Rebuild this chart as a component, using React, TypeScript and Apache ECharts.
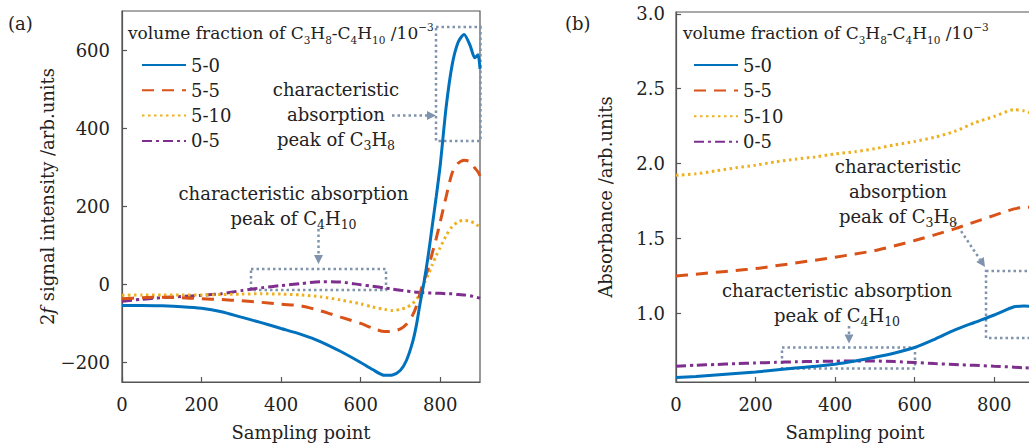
import React, { useEffect, useRef } from 'react';
import * as echarts from 'echarts';

const FONT = '"DejaVu Serif", "Liberation Serif", serif';
const FS = 18;
const TXT = '#222';
const AX = '#555';
const ANN = '#8093ad';

const seriesNames = ['5-0', '5-5', '5-10', '0-5'];
const seriesColors = ['#0072BD', '#D95319', '#EDB120', '#7E2F8E'];
const seriesDash: any[] = ['solid', [12, 8], [2.5, 3.5], [10, 4, 3, 4]];

const xTicks = [0, 200, 400, 600, 800];
const yTicksA = [-200, 0, 200, 400, 600];
const yTicksB = [1.0, 1.5, 2.0, 2.5, 3.0];

// Panel (a): 2f signal
const xA = [0, 50, 100, 150, 200, 250, 300, 350, 400, 450, 500, 550, 600, 630, 660, 680, 700, 715, 730, 740, 750, 760, 770, 780, 790, 800, 815, 830, 845, 860, 875, 887, 895, 900];
const a_5_0 = [-54, -54, -55, -57, -61, -70, -84, -98, -113, -128, -147, -172, -200, -218, -233, -232, -220, -195, -150, -105, -45, 10, 75, 150, 225, 305, 455, 562, 620, 640, 612, 580, 588, 552];
const a_5_5 = [-37, -34, -33, -34, -37, -39, -42, -46, -51, -55, -68, -84, -100, -112, -121, -120, -114, -102, -80, -56, -20, 12, 42, 80, 118, 160, 225, 285, 310, 318, 314, 298, 288, 278];
const a_5_10 = [-28, -27, -27, -27, -27, -26, -25, -24, -25, -27, -32, -40, -50, -58, -64, -67, -64, -59, -50, -38, -25, 3, 25, 50, 74, 94, 125, 148, 160, 164, 162, 156, 150, 145];
const a_0_5 = [-43, -38, -34, -31, -28, -24, -16, -9, -3, 2, 7, 6, -1, -5, -9, -12, -15, -17, -19, -20, -21, -21, -22, -22, -23, -23, -24, -24, -26, -27, -29, -32, -34, -36];

// Panel (b): absorbance
const xB = [0, 50, 100, 150, 200, 250, 300, 350, 400, 450, 500, 550, 600, 650, 700, 750, 800, 850, 875, 900];
const b_5_0 = [0.573, 0.58, 0.59, 0.6, 0.61, 0.623, 0.636, 0.648, 0.662, 0.683, 0.708, 0.737, 0.773, 0.828, 0.889, 0.94, 0.99, 1.045, 1.05, 1.048];
const b_5_5 = [1.25, 1.262, 1.275, 1.287, 1.3, 1.318, 1.337, 1.356, 1.376, 1.397, 1.42, 1.452, 1.487, 1.525, 1.565, 1.61, 1.655, 1.698, 1.708, 1.71];
const b_5_10 = [1.922, 1.932, 1.952, 1.972, 1.99, 2.012, 2.03, 2.045, 2.065, 2.08, 2.1, 2.125, 2.148, 2.176, 2.215, 2.272, 2.315, 2.36, 2.352, 2.33];
const b_0_5 = [0.648, 0.655, 0.66, 0.665, 0.67, 0.674, 0.678, 0.68, 0.682, 0.683, 0.683, 0.679, 0.673, 0.666, 0.66, 0.654, 0.648, 0.642, 0.638, 0.636];

const aSeries = [a_5_0, a_5_5, a_5_10, a_0_5];
const bSeries = [b_5_0, b_5_5, b_5_10, b_0_5];

const richBase = {
  n: { fontFamily: FONT, fontSize: FS, color: TXT, lineHeight: 25 },
  m: { fontFamily: FONT, fontSize: 17, color: TXT, lineHeight: 24 },
  s: { fontFamily: FONT, fontSize: 12.5, color: TXT, lineHeight: 15, verticalAlign: 'bottom' },
  t: { fontFamily: FONT, fontSize: 10.5, color: TXT, lineHeight: 14, verticalAlign: 'bottom' },
  p: { fontFamily: FONT, fontSize: 10.5, color: TXT, lineHeight: 12, verticalAlign: 'top' },
  i: { fontFamily: FONT, fontSize: FS, color: TXT, lineHeight: 25, fontStyle: 'italic' },
};

const legendTitle = '{m|volume fraction of C}{t|3}{m|H}{t|8}{m|-C}{t|4}{m|H}{t|10}{m| /10}{p|−3}';

function txt(x: number, y: number, text: string, align: string) {
  return {
    type: 'text',
    x, y,
    silent: true,
    style: {
      text,
      rich: richBase,
      fill: TXT,
      font: `${FS}px ${FONT}`,
      align, textAlign: align,
      verticalAlign: 'middle', textVerticalAlign: 'middle',
    },
  };
}

function box(x: number, y: number, w: number, h: number) {
  return {
    type: 'rect', silent: true,
    shape: { x, y, width: w, height: h },
    style: { fill: 'none', stroke: ANN, lineWidth: 2.5, lineDash: [2.5, 3] },
  };
}

function arrow(x1: number, y1: number, x2: number, y2: number) {
  const dx = x2 - x1, dy = y2 - y1;
  const L = Math.sqrt(dx * dx + dy * dy);
  const ux = dx / L, uy = dy / L;
  const hl = 9, hw = 4.5;
  const bx = x2 - ux * hl, by = y2 - uy * hl;
  return [
    {
      type: 'line', silent: true,
      shape: { x1, y1, x2: bx, y2: by },
      style: { stroke: ANN, lineWidth: 2.5, lineDash: [2.5, 3] },
    },
    {
      type: 'polygon', silent: true,
      shape: { points: [[x2, y2], [bx - uy * hw, by + ux * hw], [bx + uy * hw, by - ux * hw]] },
      style: { fill: ANN },
    },
  ];
}

function makeAxisLabel(fmt: (v: number) => string, values: number[], margin: number) {
  return { customValues: values, formatter: fmt, margin, fontSize: FS, fontFamily: FONT, color: TXT };
}

export default function App() {
  const ref = useRef<HTMLDivElement>(null);
  useEffect(() => {
    if (!ref.current) return;
    const chart = echarts.init(ref.current, null, { renderer: 'svg' });

    const axisCommon = {
      type: 'value',
      axisLine: { show: true, onZero: false, lineStyle: { color: AX, width: 1.2 } },
      splitLine: { show: false },
      nameLocation: 'middle',
      nameTextStyle: { fontSize: FS, fontFamily: FONT, color: TXT, rich: richBase },
    };
    const tick = (vals: number[]) => ({ show: true, inside: true, length: 5, customValues: vals, lineStyle: { color: AX, width: 1.2 } });
    const intFmt = (v: number) => (v < 0 ? '−' + Math.abs(v) : String(v));
    const decFmt = (v: number) => v.toFixed(1);

    const series: any[] = [];
    seriesNames.forEach((name, k) => {
      series.push({
        name, type: 'line', xAxisIndex: 0, yAxisIndex: 0,
        data: xA.map((x, i) => [x, aSeries[k][i]]),
        symbol: 'none', showSymbol: false, smooth: 0.25,
        lineStyle: { color: seriesColors[k], width: 3, type: seriesDash[k] },
        itemStyle: { color: seriesColors[k] },
        z: 10 - k,
      });
    });
    seriesNames.forEach((name, k) => {
      series.push({
        name, type: 'line', xAxisIndex: 1, yAxisIndex: 1,
        data: xB.map((x, i) => [x, bSeries[k][i]]),
        symbol: 'none', showSymbol: false, smooth: 0.25,
        lineStyle: { color: seriesColors[k], width: 3, type: seriesDash[k] },
        itemStyle: { color: seriesColors[k] },
        z: 10 - k,
      });
    });

    const legendCommon = {
      data: seriesNames,
      orient: 'vertical',
      itemWidth: 44,
      itemHeight: 20,
      selectedMode: false,
      padding: 0,
      itemStyle: { color: 'rgba(0,0,0,0)', borderWidth: 0, opacity: 0 },
      textStyle: { fontSize: FS, fontFamily: FONT, color: TXT, lineHeight: 20 },
    };

    const graphics: any[] = [
      txt(8, 23, '{n|(a)}', 'left'),
      txt(565, 23, '{n|(b)}', 'left'),
      txt(128, 33, legendTitle, 'left'),
      txt(683, 33, legendTitle, 'left'),
      // panel a annotations
      box(436, 27, 44.5, 114),
      ...arrow(392, 115.5, 436, 115.5),
      txt(336, 114, '{n|characteristic}\n{n|absorption}\n{n|peak of C}{s|3}{n|H}{s|8}', 'center'),
      box(251, 269, 135, 21),
      ...arrow(318.5, 229, 318.5, 264),
      txt(293.5, 205.5, '{n|characteristic absorption}\n{n|peak of C}{s|4}{n|H}{s|10}', 'center'),
      // panel b annotations
      box(986, 271, 60, 67),
      ...arrow(955, 222, 985, 267),
      txt(898, 191, '{n|characteristic}\n{n|absorption}\n{n|peak of C}{s|3}{n|H}{s|8}', 'center'),
      box(782, 347.5, 133, 21),
      ...arrow(849, 326, 849, 343.5),
      txt(837, 302.5, '{n|characteristic absorption}\n{n|peak of C}{s|4}{n|H}{s|10}', 'center'),
    ];

    chart.setOption({
      animation: false,
      backgroundColor: '#fff',
      grid: [
        { left: 122, top: 11, width: 358, height: 371, show: true, borderColor: AX, borderWidth: 1.2, outerBoundsMode: 'none' },
        { left: 676, top: 12, width: 358, height: 370, show: true, borderColor: AX, borderWidth: 1.2, outerBoundsMode: 'none' },
      ],
      xAxis: [
        { ...axisCommon, gridIndex: 0, min: 0, max: 900, axisTick: tick(xTicks), axisLabel: makeAxisLabel(intFmt, xTicks, 13), name: '{n|Sampling point}', nameGap: 38 },
        { ...axisCommon, gridIndex: 1, min: 0, max: 900, axisTick: tick(xTicks), axisLabel: makeAxisLabel(intFmt, xTicks, 13), name: '{n|Sampling point}', nameGap: 38 },
      ],
      yAxis: [
        { ...axisCommon, gridIndex: 0, min: -250, max: 700, axisTick: tick(yTicksA), axisLabel: makeAxisLabel(intFmt, yTicksA, 12), name: '{n|2}{i|f}{n| signal intensity /arb.units}', nameGap: 57 },
        { ...axisCommon, gridIndex: 1, min: 0.543, max: 3.012, axisTick: tick(yTicksB), axisLabel: makeAxisLabel(decFmt, yTicksB, 11), name: '{n|Absorbance /arb.units}', nameGap: 58 },
      ],
      legend: [
        { ...legendCommon, left: 141, top: 55, itemGap: 5.3 },
        { ...legendCommon, left: 693, top: 55, itemGap: 5.6 },
      ],
      series,
      graphic: graphics,
    });
    return () => chart.dispose();
  }, []);
  return (
    <div style={{ position: 'absolute', left: 0, top: 0, width: 1029, height: 443, overflow: 'hidden' }}>
      <div ref={ref} style={{ width: 1029, height: 443 }} />
    </div>
  );
}
